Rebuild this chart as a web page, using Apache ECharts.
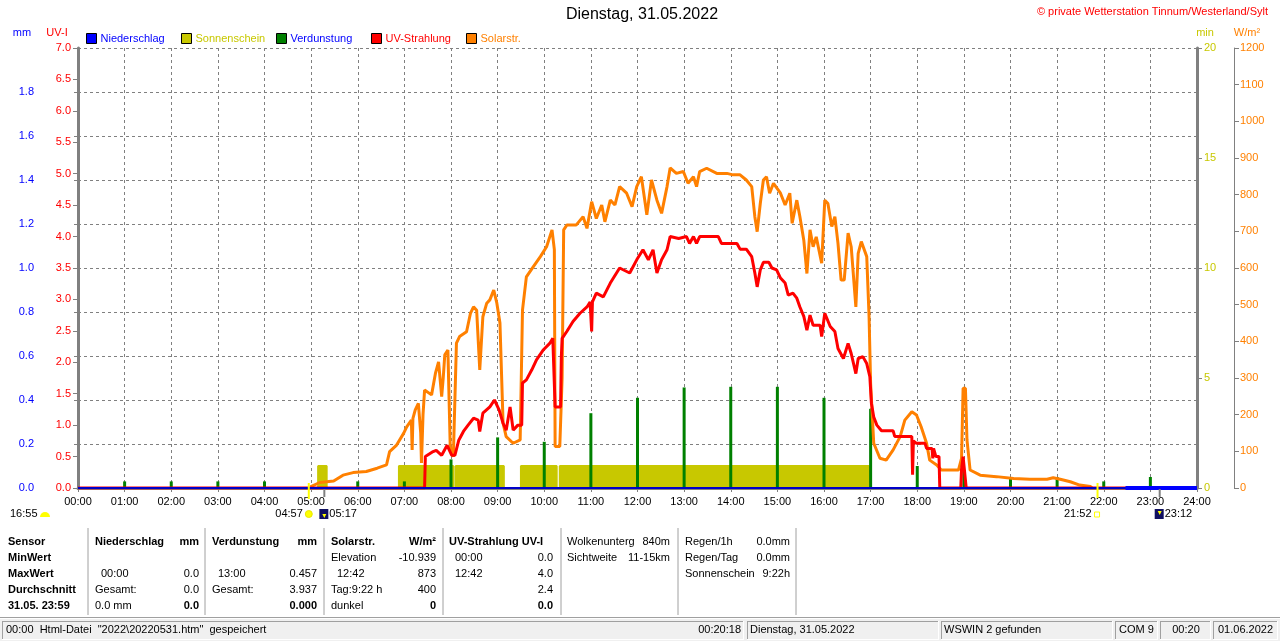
<!DOCTYPE html>
<html>
<head>
<meta charset="utf-8">
<title>Dienstag, 31.05.2022</title>
<script src="https://cdn.jsdelivr.net/npm/echarts@6/dist/echarts.min.js"></script>
<style>
    html, body { margin: 0; padding: 0; background: #fff; }
    #main { width: 1280px; height: 641px; }
</style>
</head>
<body>
<div id="main"></div>
<script type="text/javascript">
    var FONT = '"Liberation Sans", Arial, sans-serif';

    // Solarstrahlung W/m² (Uhrzeit, Wert)
    var solarZeit = ['04:59','05:00','05:11','05:29','05:41','05:54','06:11','06:25','06:37','06:41','06:50','06:59',
        '07:03','07:09','07:10','07:11','07:14','07:18','07:21','07:22','07:24','07:26','07:35','07:40','07:44','07:48',
        '07:50','07:52','07:56','07:59','08:03','08:05','08:07','08:11','08:20','08:25','08:29','08:33','08:37','08:41',
        '08:46','08:50','08:55','08:59','09:03','09:07','09:11','09:20','09:29','09:32','09:37','09:46','09:55','10:03',
        '10:10','10:13','10:14','10:20','10:23','10:25','10:29','10:41','10:50','10:55','11:01','11:07','11:14','11:18',
        '11:25','11:31','11:37','11:46','11:53','11:59','12:05','12:12','12:18','12:25','12:31','12:38','12:42','12:50',
        '12:59','13:05','13:12','13:16','13:20','13:29','13:42','13:55','14:03','14:12','14:20','14:27','14:31','14:34',
        '14:38','14:42','14:46','14:50','14:55','15:04','15:10','15:16','15:19','15:25','15:29','15:34','15:38','15:42',
        '15:46','15:50','15:57','16:01','16:05','16:10','16:14','16:18','16:22','16:26','16:31','16:35','16:41','16:44',
        '16:48','16:55','16:58','17:00','17:04','17:12','17:20','17:29','17:38','17:44','17:53','17:59','18:05','18:12',
        '18:16','18:25','18:31','18:53','18:57','18:59','19:02','19:04','19:08','19:21','19:42','20:04','20:25','20:47',
        '20:55','21:04','21:17','21:29','21:43','21:45'];
    var solarWert = [3,8,15,19,35,42,45,54,63,99,117,149,
        167,185,104,190,213,231,150,68,200,267,254,313,344,249,
        300,363,376,113,85,90,395,413,426,476,494,485,322,467,
        504,513,540,504,450,177,140,122,131,485,576,604,631,658,
        704,650,113,113,300,704,717,717,740,708,781,735,772,726,
        785,772,822,804,767,822,849,745,840,785,749,822,873,858,
        863,831,849,822,863,872,858,858,854,854,840,822,740,699,
        776,840,849,804,831,804,772,804,722,785,740,676,585,704,
        658,685,613,785,776,713,740,667,567,567,695,658,494,640,
        672,631,467,285,122,81,76,104,140,185,208,199,167,122,
        76,63,49,49,81,272,272,131,49,35,31,26,24,24,
        28,24,17,8,4,0];

    // UV-Strahlung UV-I (Uhrzeit, Wert)
    var uvZeit = ['00:00','07:26','07:27','07:37','07:41','07:48','07:55','08:01','08:05','08:10','08:16','08:22','08:29',
        '08:35','08:37','08:41','08:50','08:56','09:02','09:07','09:11','09:16','09:20','09:26','09:31','09:32','09:37',
        '09:44','09:50','09:59','10:07','10:11','10:13','10:14','10:21','10:22','10:23','10:29','10:37','10:46','10:55',
        '10:59','11:01','11:02','11:07','11:16','11:25','11:37','11:50','11:59','12:07','12:14','12:20','12:25','12:31',
        '12:38','12:42','12:53','13:03','13:07','13:12','13:16','13:20','13:44','13:48','14:08','14:12','14:20','14:27',
        '14:31','14:34','14:38','14:42','14:49','14:53','14:59','15:04','15:10','15:14','15:20','15:25','15:29','15:34',
        '15:38','15:42','15:46','15:55','15:57','16:01','16:08','16:14','16:18','16:25','16:31','16:35','16:41','16:44',
        '16:50','16:55','16:59','17:01','17:04','17:08','17:14','17:29','17:31','17:53','17:54','17:55','17:59','18:10',
        '18:12','18:19','18:20','18:21','18:24','18:28','18:29','18:56','18:57','18:59','19:01','19:03','24:00'];
    var uvWert = [0,0,0.50,0.58,0.60,0.52,0.68,0.52,0.52,0.76,0.90,1.00,1.11,
        1.08,0.90,1.19,1.29,1.40,1.24,1.03,0.92,1.29,0.92,1.00,1.00,1.67,1.72,
        1.88,2.04,2.20,2.30,2.38,2.38,1.29,1.29,2.09,2.38,2.49,2.65,2.78,2.88,
        2.96,2.49,2.96,3.10,3.04,3.26,3.50,3.42,3.63,3.79,3.63,3.79,3.42,3.63,
        3.79,4.00,3.97,4.00,3.89,4.00,3.89,4.00,4.00,3.89,3.89,3.80,3.80,3.68,
        3.42,3.20,3.47,3.59,3.59,3.50,3.47,3.34,3.26,3.07,3.10,3.02,2.88,2.73,
        2.51,2.75,2.59,2.59,2.41,2.78,2.57,2.49,2.22,2.06,2.30,2.14,1.82,2.06,
        2.09,1.98,1.77,1.35,1.13,1.00,0.91,0.91,0.82,0.82,0.21,0.75,0.71,0.71,
        0.63,0.63,0.47,0.63,0.50,0.50,0,0,0.30,0.50,0.50,0,0];

    // Verdunstung mm je Stunde
    var verdStunde = [1,2,3,4,6,7,8,9,10,11,12,13,14,15,16,17,18,19,20,21,22,23];
    var verdWert = [0.03,0.03,0.03,0.03,0.03,0.03,0.13,0.23,0.21,0.34,0.41,0.457,0.46,0.46,0.41,0.36,0.10,0.08,0.05,0.05,0.03,0.05];

    // Sonnenschein min (Zeitraeume mit Sonne)
    var sonneVon = ['05:09','06:53','08:06','09:30','10:20'];
    var sonneBis = ['05:20','08:03','09:08','10:16','16:58'];
    var sonneMin = 1;
    var sonneLinie = ['04:57','22:28'];

    // Niederschlag mm
    var niederZeit = ['00:00','24:00'];
    var niederWert = [0, 0];
    var niederEndeZeit = ['22:28','24:00'];

    // Sonnenauf-/untergang unter der Zeitachse
    var sonnenAuf = '04:57', daemmerAuf = '05:17', sonnenUnter = '21:52', daemmerUnter = '23:12';

    var legendNamen = ['Niederschlag','Sonnenschein','Verdunstung','UV-Strahlung','Solarstr.'];
    var legendTextFarbe = ['#0000ff','#c8c800','#0000ff','#ff0000','#ff8000'];

    // Tabelle unten
    var tabZeilen = [542, 558, 574, 590, 606];
    var tabTrenner = [88, 205, 324, 443, 561, 678, 796];
    var tabText = [
        // [x, zeile, text, bold, rechtsbuendig]
        [8,0,'Sensor',1,0],[8,1,'MinWert',1,0],[8,2,'MaxWert',1,0],[8,3,'Durchschnitt',1,0],[8,4,'31.05. 23:59',1,0],
        [95,0,'Niederschlag',1,0],[199,0,'mm',1,1],[101,2,'00:00',0,0],[199,2,'0.0',0,1],[95,3,'Gesamt:',0,0],[199,3,'0.0',0,1],
        [95,4,'0.0 mm',0,0],[199,4,'0.0',1,1],
        [212,0,'Verdunstung',1,0],[317,0,'mm',1,1],[218,2,'13:00',0,0],[317,2,'0.457',0,1],[212,3,'Gesamt:',0,0],[317,3,'3.937',0,1],
        [317,4,'0.000',1,1],
        [331,0,'Solarstr.',1,0],[436,0,'W/m²',1,1],[331,1,'Elevation',0,0],[436,1,'-10.939',0,1],[337,2,'12:42',0,0],[436,2,'873',0,1],
        [331,3,'Tag:9:22 h',0,0],[436,3,'400',0,1],[331,4,'dunkel',0,0],[436,4,'0',1,1],
        [449,0,'UV-Strahlung UV-I',1,0],[455,1,'00:00',0,0],[553,1,'0.0',0,1],[455,2,'12:42',0,0],[553,2,'4.0',0,1],[553,3,'2.4',0,1],
        [553,4,'0.0',1,1],
        [567,0,'Wolkenunterg',0,0],[670,0,'840m',0,1],[567,1,'Sichtweite',0,0],[670,1,'11-15km',0,1],
        [685,0,'Regen/1h',0,0],[790,0,'0.0mm',0,1],[685,1,'Regen/Tag',0,0],[790,1,'0.0mm',0,1],[685,2,'Sonnenschein',0,0],[790,2,'9:22h',0,1]
    ];
    // Statusleiste [x, breite]
    var statusFelder = [[2,742],[747,192],[941,172],[1115,43],[1160,51],[1213,65]];

    function h(s) {
        var p = s.split(':');
        return +p[0] + p[1] / 60;
    }
    function paare(zeit, wert) {
        return zeit.map(function (z, i) { return [h(z), wert[i]]; });
    }
    function txt(x, y, s, o) {
        o = o || {};
        return {
            type: 'text', x: x, y: y, silent: true, z: 100,
            style: {
                text: s, fill: o.c || '#000', fontSize: o.s || 11, fontFamily: FONT,
                fontWeight: o.b ? 'bold' : 'normal', textAlign: o.a || 'left',
                verticalAlign: 'middle', textVerticalAlign: 'middle'
            }
        };
    }
    function linie(x1, y1, x2, y2, farbe, breite) {
        return { type: 'line', silent: true, z: 100, shape: {x1: x1, y1: y1, x2: x2, y2: y2},
            style: {stroke: farbe, lineWidth: breite || 1} };
    }

    var sonne = [[h(sonneLinie[0]), 0]];
    sonneVon.forEach(function (v, i) {
        sonne.push([h(v), 0], [h(v), sonneMin], [h(sonneBis[i]), sonneMin], [h(sonneBis[i]), 0]);
    });
    sonne.push([h(sonneLinie[1]), 0]);

    var grau = '#808080';
    var myChart = echarts.init(document.getElementById('main'));

    var option = {
        animation: false,
        textStyle: {fontFamily: FONT},
        grid: {left: 78, right: 83, top: 48, bottom: 153},
        legend: legendNamen.map(function (n, i) {
            return {
                data: [n], left: 86 + 95 * i, top: 33, icon: 'rect', itemWidth: 10, itemHeight: 10,
                selectedMode: false, padding: 0,
                itemStyle: {borderColor: '#000', borderWidth: 1},
                textStyle: {color: legendTextFarbe[i], fontSize: 11, fontFamily: FONT, padding: [0, 0, 0, -1]}
            };
        }),
        xAxis: [{
            type: 'value', min: 0, max: 24, interval: 1, position: 'bottom',
            axisLine: {show: false},
            axisTick: {show: true, length: 4, lineStyle: {color: grau}},
            axisLabel: {color: '#000', fontSize: 11, fontFamily: FONT, margin: 8,
                formatter: function (v) { return (v < 10 ? '0' : '') + v + ':00'; }},
            splitLine: {show: true, lineStyle: {color: grau, type: [3, 3], width: 1}}
        }, {
            type: 'value', min: 0, max: 24, position: 'top',
            axisLine: {show: true, lineStyle: {color: grau, width: 3}},
            axisTick: {show: false}, axisLabel: {show: false}, splitLine: {show: false}
        }],
        yAxis: [{
            type: 'value', position: 'left', min: 0, max: 7, interval: 0.5,
            axisLine: {show: true, lineStyle: {color: grau, width: 3}},
            axisTick: {show: true, length: 5, lineStyle: {color: grau}},
            axisLabel: {color: '#ff0000', fontSize: 11, fontFamily: FONT, margin: 7,
                formatter: function (v) { return v.toFixed(1); }},
            splitLine: {show: false}
        }, {
            type: 'value', position: 'left', offset: 38, min: 0, max: 2, interval: 0.2,
            axisLine: {show: true, lineStyle: {color: grau, width: 1}},
            axisTick: {show: true, length: 4, lineStyle: {color: grau}},
            axisLabel: {color: '#0000ff', fontSize: 11, fontFamily: FONT, margin: 6, showMaxLabel: false,
                formatter: function (v) { return v.toFixed(1); }},
            splitLine: {show: true, lineStyle: {color: grau, type: [3, 3], width: 1}}
        }, {
            type: 'value', position: 'right', min: 0, max: 20, interval: 5,
            axisLine: {show: true, lineStyle: {color: grau, width: 3}},
            axisTick: {show: true, length: 5, lineStyle: {color: grau}},
            axisLabel: {color: '#c8c800', fontSize: 11, fontFamily: FONT, margin: 7,
                formatter: function (v) { return String(v); }},
            splitLine: {show: false}
        }, {
            type: 'value', position: 'right', offset: 37, min: 0, max: 1200, interval: 100,
            axisLine: {show: true, lineStyle: {color: grau, width: 1}},
            axisTick: {show: true, length: 5, lineStyle: {color: grau}},
            axisLabel: {color: '#ff8000', fontSize: 11, fontFamily: FONT, margin: 6,
                formatter: function (v) { return String(v); }},
            splitLine: {show: false}
        }],
        series: [{
            name: 'Sonnenschein', type: 'line', yAxisIndex: 2, data: sonne, showSymbol: false, z: 1,
            itemStyle: {color: '#c8c800'}, lineStyle: {color: '#c8c800', width: 2},
            areaStyle: {color: '#c8c800', opacity: 1}
        }, {
            name: 'Verdunstung', type: 'bar', yAxisIndex: 1, barWidth: 3, z: 2,
            itemStyle: {color: '#008000'},
            data: paare(verdStunde.map(function (s) { return s + ':00'; }), verdWert)
        }, {
            name: 'Solarstr.', type: 'line', yAxisIndex: 3, data: paare(solarZeit, solarWert), showSymbol: false, z: 3,
            itemStyle: {color: '#ff8000'}, lineStyle: {color: '#ff8000', width: 3}
        }, {
            name: 'UV-Strahlung', type: 'line', yAxisIndex: 0, data: paare(uvZeit, uvWert), showSymbol: false, z: 4,
            itemStyle: {color: '#ff0000'}, lineStyle: {color: '#ff0000', width: 3}
        }, {
            name: 'Niederschlag', type: 'line', yAxisIndex: 1, data: paare(niederZeit, niederWert), showSymbol: false, z: 5,
            itemStyle: {color: '#0000ff'}, lineStyle: {color: '#0000c8', width: 2}
        }, {
            name: 'Niederschlag', type: 'line', yAxisIndex: 1, showSymbol: false, z: 5,
            data: paare(niederEndeZeit, niederEndeZeit.map(function () { return 0; })),
            itemStyle: {color: '#0000ff'}, lineStyle: {color: '#0000ff', width: 4}
        }]
    };
    myChart.setOption(option);

    // Beschriftungen, Markierungen und Tabelle
    function px(t) { return myChart.convertToPixel({xAxisIndex: 0}, h(t)); }
    var g = [];
    g.push(txt(642, 15, 'Dienstag, 31.05.2022', {s: 16, a: 'center'}));
    g.push(txt(1268, 12, '© private Wetterstation Tinnum/Westerland/Sylt', {c: '#ff0000', a: 'right'}));
    g.push(txt(22, 33, 'mm', {c: '#0000ff', a: 'center'}));
    g.push(txt(57, 33, 'UV-I', {c: '#ff0000', a: 'center'}));
    g.push(txt(1205, 33, 'min', {c: '#c8c800', a: 'center'}));
    g.push(txt(1247, 33, 'W/m²', {c: '#ff8000', a: 'center'}));

    var xa = px(sonnenAuf), xd = px(daemmerAuf), xu = px(sonnenUnter), xn = px(daemmerUnter);
    g.push(linie(xa, 483, xa, 499, '#ffff00', 2));
    g.push(linie(xu, 483, xu, 498, '#ffff00', 2));
    g.push(linie(xd, 489, xd, 497, grau, 2));
    g.push(linie(xn, 489, xn, 497, grau, 2));
    g.push(txt(10, 514, '16:55'));
    g.push({type: 'sector', silent: true, z: 100, shape: {cx: 45, cy: 517, r: 5, startAngle: Math.PI, endAngle: 2 * Math.PI},
        style: {fill: '#ffff00'}});
    g.push(txt(xa - 6, 514, sonnenAuf, {a: 'right'}));
    g.push({type: 'circle', silent: true, z: 100, shape: {cx: xa, cy: 514, r: 3.5}, style: {fill: '#ffff00', stroke: '#e8e800'}});
    g.push({type: 'rect', silent: true, z: 100, shape: {x: xd - 5, y: 509, width: 9, height: 10}, style: {fill: '#101060'}});
    g.push({type: 'polygon', silent: true, z: 101, shape: {points: [[xd - 2, 514], [xd + 2, 514], [xd, 518]]}, style: {fill: '#ffff00'}});
    g.push(txt(xd + 5, 514, daemmerAuf));
    g.push(txt(xu - 6, 514, sonnenUnter, {a: 'right'}));
    g.push({type: 'rect', silent: true, z: 100, shape: {x: xu - 3, y: 512, width: 5, height: 5}, style: {fill: '#fff', stroke: '#ffff00'}});
    g.push({type: 'rect', silent: true, z: 100, shape: {x: xn - 5, y: 509, width: 9, height: 10}, style: {fill: '#101060'}});
    g.push({type: 'polygon', silent: true, z: 101, shape: {points: [[xn - 2, 511], [xn + 2, 511], [xn, 515]]}, style: {fill: '#ffff00'}});
    g.push(txt(xn + 5, 514, daemmerUnter));

    tabTrenner.forEach(function (x) { g.push(linie(x, 528, x, 615, '#a0a0a0', 1)); });
    tabText.forEach(function (r) {
        g.push(txt(r[0], tabZeilen[r[1]], r[2], {b: r[3], a: r[4] ? 'right' : 'left'}));
    });

    // Statusleiste
    g.push({type: 'rect', silent: true, z: 90, shape: {x: 0, y: 617, width: 1280, height: 24}, style: {fill: '#f0f0f0'}});
    g.push(linie(0, 617.5, 1280, 617.5, '#a0a0a0', 1));
    g.push(linie(0, 618.5, 1280, 618.5, '#ffffff', 1));
    statusFelder.forEach(function (f) {
        g.push(linie(f[0], 621.5, f[0] + f[1], 621.5, '#a0a0a0', 1));
        g.push(linie(f[0] + 0.5, 621, f[0] + 0.5, 640, '#a0a0a0', 1));
        g.push(linie(f[0], 639.5, f[0] + f[1], 639.5, '#ffffff', 1));
        g.push(linie(f[0] + f[1] - 0.5, 621, f[0] + f[1] - 0.5, 640, '#ffffff', 1));
    });
    g.push(txt(6, 630, '00:00  Html-Datei  "2022\\20220531.htm"  gespeichert'));
    g.push(txt(741, 630, '00:20:18', {a: 'right'}));
    g.push(txt(750, 630, 'Dienstag, 31.05.2022'));
    g.push(txt(944, 630, 'WSWIN 2 gefunden'));
    g.push(txt(1119, 630, 'COM 9'));
    g.push(txt(1186, 630, '00:20', {a: 'center'}));
    g.push(txt(1218, 630, '01.06.2022'));

    myChart.setOption({graphic: g});
</script>
</body>
</html>
